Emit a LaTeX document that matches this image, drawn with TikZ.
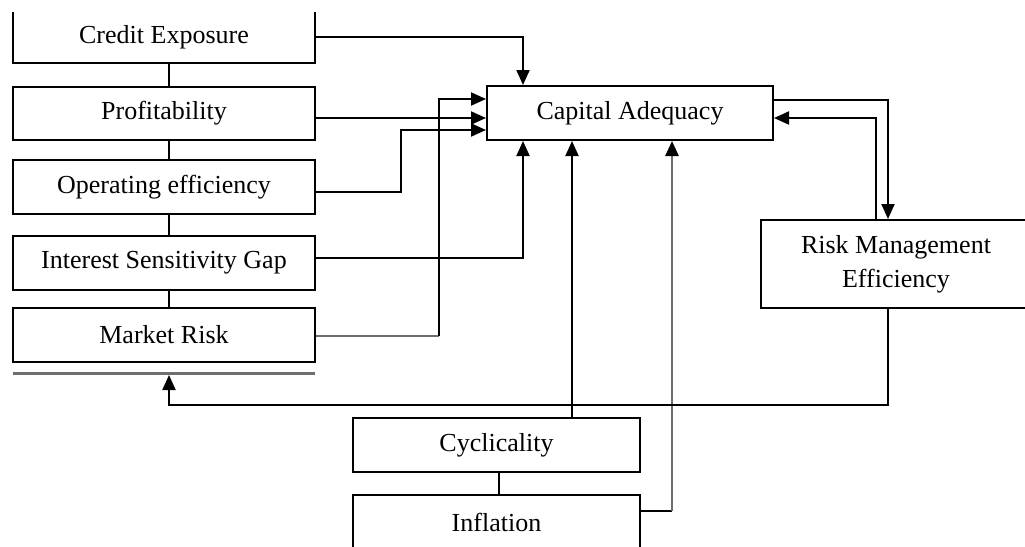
\documentclass[tikz,border=0pt]{standalone}
\usepackage{fontspec}
\setmainfont{Liberation Serif}
\usetikzlibrary{arrows.meta}
\definecolor{lgray}{RGB}{110,110,110}
\begin{document}
\begin{tikzpicture}[x=1pt,y=-1pt,
  box/.style={draw=black, line width=2pt, fill=white, inner sep=0pt,
    font=\fontsize{26}{34}\selectfont, align=center},
  lbox/.style={box, minimum width=302pt, minimum height=53pt},
  conn/.style={line width=2pt, draw=black},
  arr/.style={conn, -{Triangle[length=15pt,width=13pt,color=black]}},
  grayconn/.style={line width=2.6pt, draw=lgray}]
\useasboundingbox (0,0) rectangle (1025,546);
\clip (0,12.5) rectangle (1025,546);
% nodes
\node[box, minimum width=302pt, minimum height=52pt] (ce) at (164,37) {Credit Exposure};
\node[lbox] (pr) at (164,113.5) {Profitability};
\node[lbox, minimum height=54pt] (oe) at (164,187) {Operating efficiency};
\node[lbox, minimum height=54pt] (isg) at (164,263) {Interest Sensitivity Gap};
\node[lbox, minimum height=54pt] (mr) at (164,335) {Market Risk};
\node[box, minimum width=286pt, minimum height=54pt] (ca) at (630,113) {Capital Adequacy};
\node[box, minimum width=270pt, minimum height=88pt] (rme) at (896,264) {Risk Management\\Efficiency};
\node[box, minimum width=287pt, minimum height=54pt] (cy) at (496.5,445) {Cyclicality};
\node[box, minimum width=287pt, minimum height=54pt] (inf) at (496.5,522) {Inflation};
% gray rule under the left column
\coordinate (glL) at (13,373);
\coordinate (glR) at (315,373);
\draw[line width=3pt, draw=lgray] (glL) -- (glR);
\coordinate (glC) at (169,375);
% helper coordinates
\coordinate (xA) at (523,0);
\coordinate (xB) at (401,0);
\coordinate (xC) at (439,0);
\coordinate (xD) at (572,0);
\coordinate (xE) at (672,0);
\coordinate (xF) at (888,0);
\coordinate (xG) at (876,0);
\coordinate (xH) at (169,0);
\coordinate (xI) at (499,0);
\coordinate (yA) at (0,118);
\coordinate (yB) at (0,192);
\coordinate (yC) at (0,130);
\coordinate (yD) at (0,258);
\coordinate (yE) at (0,336);
\coordinate (yF) at (0,99);
\coordinate (yG) at (0,511);
\coordinate (yH) at (0,100);
\coordinate (yI) at (0,118);
\coordinate (yJ) at (0,405);
% left column spine
\draw[conn] (ce.south -| xH) -- (pr.north -| xH);
\draw[conn] (pr.south -| xH) -- (oe.north -| xH);
\draw[conn] (oe.south -| xH) -- (isg.north -| xH);
\draw[conn] (isg.south -| xH) -- (mr.north -| xH);
\draw[conn] (cy.south -| xI) -- (inf.north -| xI);
% connectors into Capital Adequacy
\draw[arr] (ce.east) -| (ca.north -| xA);
\draw[arr] (pr.east |- yA) -- (ca.west |- yA);
\draw[arr] (oe.east |- yB) -| (xB |- yC) -- (ca.west |- yC);
\draw[arr] (isg.east |- yD) -| (ca.south -| xA);
\draw[grayconn] (mr.east |- yE) -- (xC |- yE);
\draw[arr] (xC |- yE) |- (ca.west |- yF);
\draw[arr] (cy.north -| xD) -- (ca.south -| xD);
\draw[conn] (inf.east |- yG) -- (xE |- yG);
\draw[grayconn, -{Triangle[length=15pt,width=13pt,color=black]}] (xE |- yG) -- (ca.south -| xE);
% feedback with Risk Management Efficiency
\draw[arr] (ca.east |- yH) -| (rme.north -| xF);
\draw[arr] (rme.north -| xG) |- (ca.east |- yI);
\draw[arr] (rme.south -| xF) |- (xH |- yJ) -- (glC);
\end{tikzpicture}
\end{document}
